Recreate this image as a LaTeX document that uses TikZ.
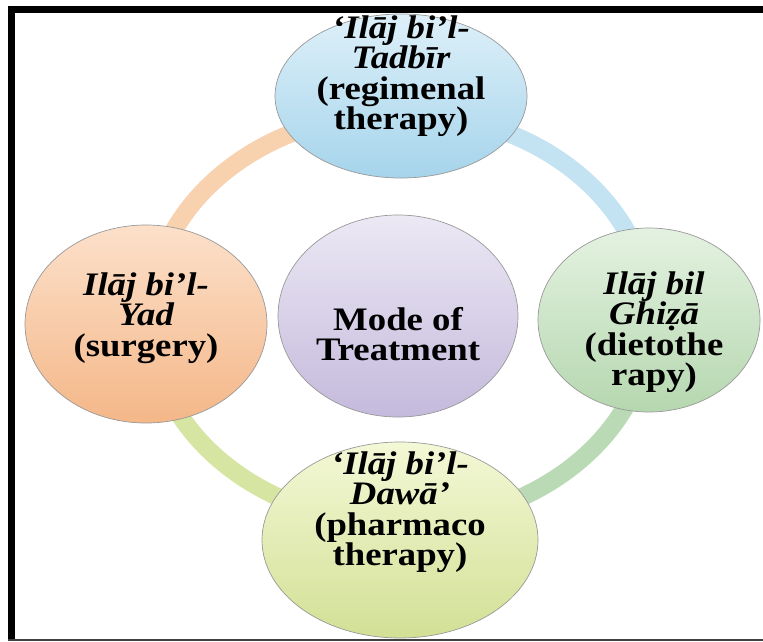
\documentclass[tikz,border=0pt]{standalone}
\usepackage{fontspec}
\setmainfont{Liberation Serif}[FakeStretch=1.12]
\usetikzlibrary{shapes.geometric}

\definecolor{ringorange}{HTML}{F8D1AE}
\definecolor{ringblue}{HTML}{C4E3F2}
\definecolor{ringgreen}{HTML}{B9DAB4}
\definecolor{ringyellow}{HTML}{D6E5A2}
\definecolor{blueA}{HTML}{DDF0F9}
\definecolor{blueB}{HTML}{A6D4EB}
\definecolor{purpleA}{HTML}{ECE8F4}
\definecolor{purpleB}{HTML}{C4BADC}
\definecolor{orangeA}{HTML}{FCE0CA}
\definecolor{orangeB}{HTML}{F4B788}
\definecolor{greenA}{HTML}{E4F2E1}
\definecolor{greenB}{HTML}{B5D7AF}
\definecolor{yellowA}{HTML}{F4F8D6}
\definecolor{yellowB}{HTML}{D2E095}

\tikzset{
  bubble/.style={ellipse, draw=gray!80, line width=0.6pt, inner sep=0pt},
  words/.style={align=center, inner sep=0pt, font=\fontsize{28}{26}\selectfont\bfseries},
  ring/.style={line width=0.54cm}
}

\begin{document}
\begin{tikzpicture}[x=0.03cm, y=-0.03cm]
\useasboundingbox (0,0) rectangle (763,641);

% frame
\draw[line width=0.21cm] (11.5,641) -- (11.5,9.5) -- (763,9.5);
\draw[line width=0.06cm, black!75] (8,640) -- (763,640);

% ring behind the circles
\coordinate (R) at (400,318);
\draw[ring, ringorange] (150,318) arc[start angle=180, end angle=270, x radius=250, y radius=205];
\draw[ring, ringblue] (400,113) arc[start angle=270, end angle=360, x radius=250, y radius=205];
\draw[ring, ringgreen] (650,318) arc[start angle=0, end angle=90, x radius=250, y radius=205];
\draw[ring, ringyellow] (400,523) arc[start angle=90, end angle=180, x radius=250, y radius=205];

% circles
\node[bubble, minimum width=7.56cm, minimum height=4.92cm, top color=blueA, bottom color=blueB] (T) at (401,96) {};
\node[bubble, minimum width=7.2cm, minimum height=6.06cm, top color=purpleA, bottom color=purpleB] (M) at (398,316) {};
\node[bubble, minimum width=7.26cm, minimum height=5.94cm, top color=orangeA, bottom color=orangeB] (Y) at (146,324) {};
\node[bubble, minimum width=6.66cm, minimum height=5.52cm, top color=greenA, bottom color=greenB] (G) at (649,320) {};
\node[bubble, minimum width=8.28cm, minimum height=5.88cm, top color=yellowA, bottom color=yellowB] (D) at (400,540) {};

% texts
\node[words] (Tt) at (401,76) {\itshape ‘Ilāj bi’l-\\ \itshape Tadbīr\\ (regimenal\\ therapy)};
\node[words] (Mt) at (398,334) {Mode of\\ Treatment};
\node[words] (Yt) at (146,318) {\itshape Ilāj bi’l-\\ \itshape Yad\\ (surgery)};
\node[words] (Gt) at (654,332) {\itshape Ilāj bil\\ \itshape Ghiẓā\\ (dietothe\\ rapy)};
\node[words] (Dt) at (400,512) {\itshape ‘Ilāj bi’l-\\ \itshape Dawā’\\ (pharmaco\\ therapy)};
\end{tikzpicture}
\end{document}
